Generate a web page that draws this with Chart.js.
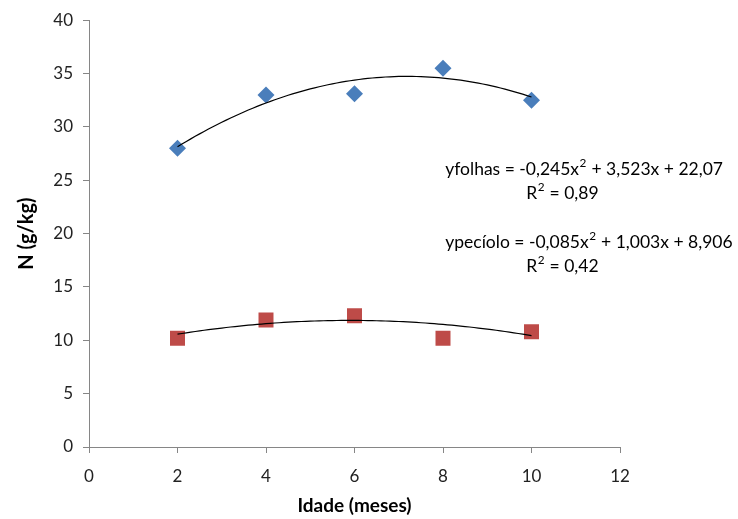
<!DOCTYPE html>
<html>
<head>
<meta charset="utf-8">
<script src="https://cdn.jsdelivr.net/npm/chart.js@4"></script>
<style>
html,body{margin:0;padding:0;background:#fff;}
#wrap{width:738px;height:519px;}
</style>
</head>
<body>
<div id="wrap"><canvas id="c" width="738" height="519"></canvas></div>
<script>
const idade = [2, 4, 6, 8, 10];
const folhas = [28.0, 33.0, 33.1, 35.5, 32.5];
const peciolo = [10.2, 11.9, 12.3, 10.2, 10.8];
const coefFolhas = [-0.245, 3.523, 22.07];
const coefPeciolo = [-0.085, 1.003, 8.906];
const xTicks = [0, 2, 4, 6, 8, 10, 12];
const yTicks = [0, 5, 10, 15, 20, 25, 30, 35, 40];
const eqFolhas = ['yfolhas = -0,245x² + 3,523x + 22,07', 'R² = 0,89'];
const eqPeciolo = ['ypecíolo = -0,085x² + 1,003x + 8,906', 'R² = 0,42'];

const FONT = 'Lato, "Open Sans", sans-serif';

function trend(coef) {
  const pts = [];
  for (let x = idade[0]; x <= idade[idade.length - 1] + 1e-9; x += 0.1) {
    pts.push({x: x, y: coef[0] * x * x + coef[1] * x + coef[2]});
  }
  return pts;
}

const EQ_SIZE = 17.5, SUP_SIZE = 11.8;
function textWidth(ctx, s) {
  const parts = s.split('²');
  let w = 0;
  parts.forEach((p, i) => {
    ctx.font = EQ_SIZE + 'px ' + FONT;
    w += ctx.measureText(p).width;
    if (i < parts.length - 1) { ctx.font = SUP_SIZE + 'px ' + FONT; w += ctx.measureText('2').width + 1; }
  });
  return w;
}
function drawRich(ctx, s, x, y) {
  const parts = s.split('²');
  let cx = x;
  parts.forEach((p, i) => {
    ctx.font = EQ_SIZE + 'px ' + FONT;
    ctx.fillText(p, cx, y);
    cx += ctx.measureText(p).width;
    if (i < parts.length - 1) {
      ctx.font = SUP_SIZE + 'px ' + FONT;
      ctx.fillText('2', cx + 0.5, y - 5.5);
      cx += ctx.measureText('2').width + 1;
    }
  });
}

const annot = {
  id: 'annot',
  afterDraw(chart) {
    const ctx = chart.ctx;
    const xs = chart.scales.x, ys = chart.scales.y;
    ctx.save();
    ctx.fillStyle = '#000';
    ctx.textBaseline = 'middle';
    ctx.textAlign = 'left';
    const left = xs.getPixelForValue(8.05);
    const drawEq = (lines, yv1, yv2) => {
      drawRich(ctx, lines[0], left, ys.getPixelForValue(yv1));
      const w = textWidth(ctx, lines[1]);
      drawRich(ctx, lines[1], xs.getPixelForValue(10.7) - w / 2, ys.getPixelForValue(yv2));
    };
    drawEq(eqFolhas, 26.04, 23.8);
    drawEq(eqPeciolo, 19.2, 16.95);
    ctx.restore();
  }
};

new Chart(document.getElementById('c'), {
  type: 'scatter',
  data: {
    datasets: [
      {
        label: 'folhas',
        data: idade.map((x, i) => ({x: x, y: folhas[i]})),
        pointStyle: 'rectRot',
        pointRadius: 8.5,
        pointHoverRadius: 8.5,
        backgroundColor: '#4a7ebb',
        borderColor: '#4a7ebb',
        borderWidth: 0,
        order: 2
      },
      {
        label: 'peciolo',
        data: idade.map((x, i) => ({x: x, y: peciolo[i]})),
        pointStyle: 'rect',
        pointRadius: 10.6,
        pointHoverRadius: 10.6,
        backgroundColor: '#be4b48',
        borderColor: '#be4b48',
        borderWidth: 0,
        order: 2
      },
      {
        type: 'line',
        label: 'trend folhas',
        data: trend(coefFolhas),
        borderColor: '#000',
        borderWidth: 1.2,
        pointRadius: 0,
        fill: false,
        order: 1
      },
      {
        type: 'line',
        label: 'trend peciolo',
        data: trend(coefPeciolo),
        borderColor: '#000',
        borderWidth: 1.2,
        pointRadius: 0,
        fill: false,
        order: 1
      }
    ]
  },
  options: {
    responsive: false,
    animation: false,
    events: [],
    layout: {padding: {top: 20, right: 118, left: 0, bottom: 0}},
    plugins: {legend: {display: false}, tooltip: {enabled: false}},
    scales: {
      x: {
        type: 'linear',
        min: 0, max: 12,
        afterFit(s) { s.height = 72; },
        afterBuildTicks(s) { s.ticks = xTicks.map(v => ({value: v})); },
        grid: {drawOnChartArea: false, tickLength: 6, color: '#868686', tickColor: '#868686'},
        border: {color: '#868686', width: 1},
        ticks: {color: '#222', font: {family: FONT, size: 17}, padding: 13},
        title: {display: true, text: 'Idade (meses)', color: '#000', font: {family: FONT, size: 19, weight: 'bold'}, padding: {top: 0, bottom: 2}}
      },
      y: {
        type: 'linear',
        min: 0, max: 40,
        afterFit(s) { s.width = 89; },
        afterBuildTicks(s) { s.ticks = yTicks.map(v => ({value: v})); },
        grid: {drawOnChartArea: false, tickLength: 6, color: '#868686', tickColor: '#868686'},
        border: {color: '#868686', width: 1},
        ticks: {color: '#222', font: {family: FONT, size: 17}, padding: 10},
        title: {display: true, text: 'N (g/kg)', color: '#000', font: {family: FONT, size: 20, weight: 'bold'}, padding: {top: 15, bottom: 0}}
      }
    }
  },
  plugins: [annot]
});
</script>
</body>
</html>
